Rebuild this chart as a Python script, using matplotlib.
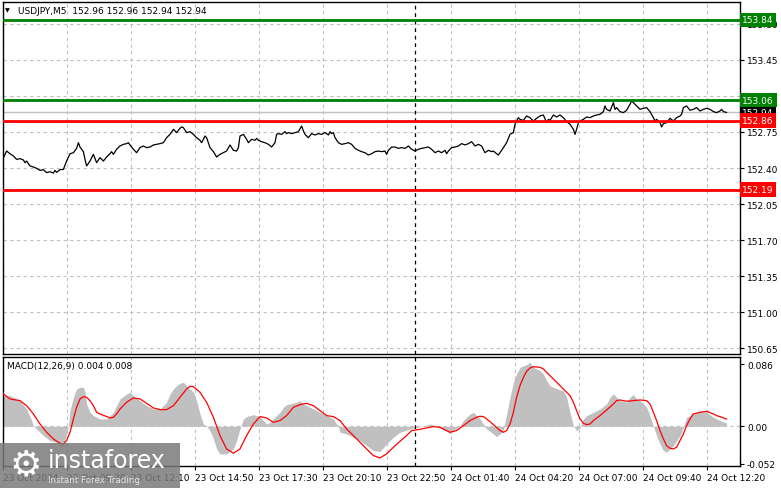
import matplotlib
# Agg backend, no display here
matplotlib.use("Agg")
import matplotlib.pyplot as plt
from matplotlib.patches import Rectangle

# ---------------------------------------------------------------------------
# Data (x = M5 bar index from the first visible bar)
# ---------------------------------------------------------------------------
price_bar = [
    0, 1.8, 3.5, 5.2, 6.8, 8.5, 10.2, 11.0, 11.8, 13.5, 15.2, 16.8, 18.5, 20.2,
    21.8, 23.5, 25.2, 26.0, 26.8, 28.5, 30.2, 31.8, 33.5, 35.2, 36.8, 37.7, 38.5,
    40.2, 41.0, 41.8, 43.5, 45.2, 46.8, 48.5, 50.2, 51.8, 53.5, 54.3, 55.2, 56.8,
    58.5, 60.2, 61.8, 62.7, 63.5, 65.2, 66.8, 68.5, 70.2, 71.8, 73.5, 75.2, 76.8,
    78.5, 80.2, 81.8, 83.5, 85.2, 86.8, 88.5, 89.3, 90.2, 91.8, 93.5, 95.2, 96.8,
    98.5, 99.3, 100.2, 101.0, 101.8, 103.5, 105.2, 106.8, 108.5, 110.2, 111.8,
    113.5, 115.2, 116.8, 117.7, 118.5, 120.2, 121.8, 122.7, 124.3, 126.0, 126.8,
    127.7, 129.3, 131.0, 132.7, 134.3, 136.0, 136.8, 137.7, 139.3, 141.0, 141.8,
    142.7, 144.3, 146.0, 147.7, 149.3, 150.2, 151.0, 152.7, 154.3, 156.0, 157.7,
    159.3, 161.0, 162.7, 163.5, 164.3, 165.2, 166.0, 167.7, 169.3, 171.0, 172.7,
    174.3, 176.0, 177.7, 179.3, 181.0, 182.7, 184.3, 186.0, 187.7, 189.3, 191.0,
    191.8, 192.7, 194.3, 196.0, 197.7, 199.3, 201.0, 202.7, 204.3, 206.0, 207.7,
    209.3, 211.0, 212.7, 214.3, 216.0, 217.7, 219.3, 221.0, 221.8, 222.7, 224.3,
    226.0, 227.7, 229.3, 231.0, 232.7, 234.3, 236.0, 237.7, 239.3, 241.0, 242.7,
    244.3, 245.2, 246.8, 247.7, 248.5, 250.2, 251.8, 253.5, 255.2, 256.0, 256.8,
    257.7, 258.5, 260.2, 261.8, 263.5, 265.2, 266.8, 268.5, 270.2, 271.8, 272.7,
    273.5, 275.2, 276.8, 278.5, 280.2, 281.8, 283.5, 285.2, 286.0, 286.8, 287.7,
    288.5, 290.2, 291.8, 293.5, 295.2, 296.8, 298.5, 300.2, 301.0, 301.8, 303.5,
    304.3, 305.2, 306.0, 306.8, 308.5, 310.2, 311.8, 313.5, 314.3, 315.2, 316.8,
    318.5, 320.2, 321.8, 323.5, 325.2, 326.0, 326.8, 328.5, 329.3, 330.2, 331.8,
    333.5, 335.2, 336.0, 336.8, 338.5, 339.3, 340.2, 341.8, 343.5, 345.2, 346.8,
    348.5, 350.2, 351.8, 353.5, 355.2, 356.8, 358.5, 359.3, 360.2, 361.8,
]
price_close = [
    152.490, 152.565, 152.539, 152.517, 152.484, 152.491, 152.478, 152.452,
    152.468, 152.420, 152.410, 152.397, 152.377, 152.384, 152.355, 152.364,
    152.351, 152.377, 152.358, 152.384, 152.387, 152.468, 152.539, 152.549,
    152.591, 152.646, 152.604, 152.559, 152.484, 152.420, 152.468, 152.533,
    152.452, 152.501, 152.468, 152.507, 152.539, 152.559, 152.533, 152.582,
    152.614, 152.630, 152.637, 152.646, 152.624, 152.582, 152.549, 152.598,
    152.614, 152.598, 152.604, 152.624, 152.630, 152.637, 152.646, 152.695,
    152.727, 152.776, 152.744, 152.786, 152.799, 152.792, 152.744, 152.753,
    152.727, 152.695, 152.669, 152.646, 152.679, 152.711, 152.695, 152.598,
    152.559, 152.507, 152.533, 152.549, 152.565, 152.624, 152.572, 152.565,
    152.598, 152.711, 152.727, 152.679, 152.646, 152.679, 152.669, 152.688,
    152.669, 152.656, 152.646, 152.630, 152.604, 152.646, 152.727, 152.734,
    152.727, 152.753, 152.734, 152.744, 152.734, 152.744, 152.753, 152.808,
    152.760, 152.727, 152.695, 152.734, 152.721, 152.734, 152.727, 152.744,
    152.721, 152.753, 152.734, 152.744, 152.695, 152.646, 152.630, 152.637,
    152.646, 152.630, 152.591, 152.572, 152.559, 152.549, 152.526, 152.539,
    152.559, 152.565, 152.559, 152.565, 152.533, 152.572, 152.604, 152.604,
    152.591, 152.598, 152.591, 152.614, 152.582, 152.565, 152.582, 152.591,
    152.598, 152.604, 152.582, 152.549, 152.565, 152.549, 152.572, 152.539,
    152.565, 152.598, 152.604, 152.614, 152.637, 152.624, 152.637, 152.656,
    152.614, 152.630, 152.614, 152.549, 152.572, 152.559, 152.565, 152.539,
    152.526, 152.549, 152.598, 152.646, 152.727, 152.744, 152.825, 152.857,
    152.889, 152.873, 152.863, 152.906, 152.889, 152.857, 152.883, 152.906,
    152.915, 152.841, 152.873, 152.863, 152.915, 152.896, 152.915, 152.889,
    152.850, 152.825, 152.776, 152.727, 152.776, 152.841, 152.857, 152.873,
    152.896, 152.889, 152.906, 152.915, 152.922, 152.948, 153.003, 152.970,
    152.954, 152.993, 153.035, 152.970, 152.987, 152.948, 152.938, 152.961,
    153.019, 153.051, 153.035, 153.003, 152.970, 152.980, 152.987, 152.948,
    152.889, 152.857, 152.873, 152.841, 152.799, 152.831, 152.841, 152.883,
    152.857, 152.873, 152.889, 152.906, 152.922, 152.987, 153.003, 152.961,
    152.970, 152.987, 152.954, 152.970, 152.980, 152.970, 152.948, 152.938,
    152.954, 152.970, 152.948, 152.940,
]

# MACD main line (grey histogram)
hist_bar = [
    0.2, 3.5, 5.2, 8.5, 11.8, 14.3, 15.2, 16.8, 20.2, 23.5, 26.8, 28.5, 30.2,
    31.8, 32.7, 33.5, 35.2, 36.8, 38.5, 40.2, 41.0, 41.8, 43.5, 45.2, 48.5, 51.8,
    55.2, 56.8, 58.5, 61.8, 63.5, 65.2, 68.5, 71.8, 75.2, 78.5, 81.8, 83.5, 85.2,
    86.8, 88.5, 90.2, 91.8, 93.5, 95.2, 96.8, 98.5, 100.2, 101.8, 103.5, 105.2,
    106.8, 108.5, 111.8, 115.2, 116.8, 118.5, 120.2, 121.8, 125.2, 128.5, 130.2,
    131.8, 133.5, 135.2, 136.8, 138.5, 140.2, 141.8, 143.5, 146.8, 148.5, 150.2,
    151.8, 155.2, 158.5, 161.8, 165.2, 166.8, 167.7, 168.5, 171.8, 175.2, 178.5,
    181.8, 185.2, 188.5, 191.8, 195.2, 198.5, 201.8, 205.2, 208.5, 211.8, 213.5,
    215.2, 218.5, 221.8, 223.5, 225.2, 228.5, 230.2, 231.8, 233.5, 235.2, 236.8,
    238.5, 240.2, 241.8, 245.2, 246.8, 248.5, 250.2, 251.8, 253.5, 255.2, 256.8,
    258.5, 261.8, 263.5, 265.2, 266.8, 268.5, 270.2, 271.8, 273.5, 275.2, 278.5,
    280.2, 281.8, 283.5, 285.2, 286.8, 288.5, 290.2, 291.8, 295.2, 298.5, 301.8,
    303.5, 305.2, 306.8, 308.5, 311.8, 313.5, 315.2, 316.8, 318.5, 321.8, 323.5,
    325.2, 326.8, 328.5, 330.2, 331.8, 333.5, 335.2, 336.8, 338.5, 340.2, 341.8,
    345.2, 348.5, 351.8, 355.2, 358.5, 361.8,
]
hist_val = [
    0.0425, 0.0425, 0.0402, 0.0356, 0.0240, 0.0079, 0.0, -0.0037, -0.0129,
    -0.0199, -0.0222, -0.0268, -0.0268, -0.0106, 0.0, 0.0217, 0.0402, 0.0517,
    0.0541, 0.0541, 0.0471, 0.0310, 0.0194, 0.0148, 0.0102, 0.0102, 0.0194,
    0.0286, 0.0379, 0.0448, 0.0471, 0.0425, 0.0356, 0.0286, 0.0240, 0.0240,
    0.0333, 0.0448, 0.0517, 0.0564, 0.0596, 0.0610, 0.0564, 0.0517, 0.0471,
    0.0356, 0.0171, 0.0032, 0.0, -0.0060, -0.0176, -0.0314, -0.0383, -0.0383,
    -0.0314, -0.0199, -0.0037, 0.0102, 0.0134, 0.0162, 0.0134, 0.0079, 0.0032,
    0.0055, 0.0102, 0.0148, 0.0194, 0.0263, 0.0300, 0.0310, 0.0333, 0.0356,
    0.0310, 0.0286, 0.0240, 0.0194, 0.0148, 0.0102, 0.0032, 0.0, -0.0083,
    -0.0106, -0.0152, -0.0199, -0.0268, -0.0337, -0.0350, -0.0245, -0.0152,
    -0.0083, -0.0051, -0.0023, -0.0005, 0.0018, 0.0032, 0.0018, -0.0023,
    -0.0069, -0.0106, -0.0060, 0.0009, 0.0079, 0.0125, 0.0171, 0.0194, 0.0148,
    0.0102, 0.0032, -0.0037, -0.0106, -0.0143, -0.0106, -0.0060, 0.0171, 0.0402,
    0.0610, 0.0725, 0.0818, 0.0855, 0.0887, 0.0818, 0.0795, 0.0772, 0.0725,
    0.0633, 0.0564, 0.0541, 0.0504, 0.0494, 0.0402, 0.0194, 0.0009, -0.0060,
    -0.0023, 0.0102, 0.0148, 0.0194, 0.0240, 0.0310, 0.0402, 0.0448, 0.0402,
    0.0356, 0.0333, 0.0402, 0.0439, 0.0379, 0.0356, 0.0263, 0.0148, 0.0,
    -0.0129, -0.0245, -0.0337, -0.0360, -0.0314, -0.0268, -0.0199, -0.0129,
    -0.0014, 0.0125, 0.0171, 0.0208, 0.0194, 0.0125, 0.0079, 0.0046,
]

# MACD signal line (red)
sig_bar = [
    0.2, 3.5, 8.5, 11.8, 15.2, 18.5, 21.8, 25.2, 28.5, 30.2, 31.8, 33.5, 35.2,
    36.8, 38.5, 40.2, 41.8, 43.5, 45.2, 46.8, 48.5, 51.8, 53.5, 55.2, 56.8, 58.5,
    61.8, 65.2, 68.5, 71.8, 75.2, 78.5, 81.8, 85.2, 88.5, 91.8, 93.5, 95.2, 98.5,
    101.8, 105.2, 108.5, 111.8, 115.2, 118.5, 121.8, 125.2, 128.5, 131.8, 135.2,
    138.5, 141.8, 145.2, 148.5, 151.8, 155.2, 158.5, 161.8, 165.2, 168.5, 171.8,
    175.2, 178.5, 181.8, 185.2, 188.5, 191.8, 195.2, 198.5, 201.8, 204.3, 208.5,
    211.8, 215.2, 218.5, 221.8, 223.5, 226.8, 230.2, 233.5, 236.8, 238.5, 240.2,
    241.8, 245.2, 248.5, 250.2, 251.8, 253.5, 255.2, 256.8, 258.5, 260.2, 261.8,
    263.5, 265.2, 268.5, 270.2, 271.8, 275.2, 278.5, 281.8, 283.5, 285.2, 286.8,
    288.5, 290.2, 291.8, 293.5, 295.2, 298.5, 301.8, 305.2, 306.8, 308.5, 311.8,
    315.2, 318.5, 321.8, 323.5, 325.2, 326.8, 328.5, 330.2, 331.8, 333.5, 335.2,
    336.8, 338.5, 340.2, 341.8, 343.5, 345.2, 348.5, 351.8, 355.2, 356.8, 358.5,
    361.8,
]
sig_val = [
    0.0448, 0.0379, 0.0356, 0.0286, 0.0171, 0.0032, -0.0083, -0.0176, -0.0236,
    -0.0245, -0.0199, -0.0083, 0.0102, 0.0263, 0.0379, 0.0411, 0.0402, 0.0356,
    0.0286, 0.0194, 0.0171, 0.0134, 0.0116, 0.0125, 0.0171, 0.0240, 0.0333,
    0.0393, 0.0379, 0.0319, 0.0254, 0.0231, 0.0231, 0.0286, 0.0402, 0.0517,
    0.0554, 0.0550, 0.0471, 0.0333, 0.0125, -0.0129, -0.0314, -0.0374, -0.0314,
    -0.0129, 0.0032, 0.0134, 0.0116, 0.0055, 0.0079, 0.0148, 0.0263, 0.0300,
    0.0319, 0.0286, 0.0217, 0.0148, 0.0134, 0.0079, -0.0037, -0.0129, -0.0222,
    -0.0314, -0.0407, -0.0439, -0.0383, -0.0291, -0.0208, -0.0129, -0.0060,
    -0.0042, -0.0023, -0.0005, -0.0014, -0.0060, -0.0083, -0.0060, 0.0009,
    0.0079, 0.0125, 0.0139, 0.0134, 0.0102, 0.0023, -0.0060, -0.0083, -0.0060,
    0.0032, 0.0194, 0.0402, 0.0564, 0.0679, 0.0762, 0.0809, 0.0827, 0.0818,
    0.0795, 0.0748, 0.0656, 0.0564, 0.0471, 0.0425, 0.0333, 0.0217, 0.0102,
    0.0042, 0.0023, 0.0032, 0.0079, 0.0148, 0.0226, 0.0310, 0.0356, 0.0365,
    0.0347, 0.0356, 0.0365, 0.0356, 0.0310, 0.0194, 0.0079, -0.0060, -0.0176,
    -0.0268, -0.0305, -0.0314, -0.0291, -0.0199, -0.0106, 0.0009, 0.0102,
    0.0171, 0.0194, 0.0208, 0.0171, 0.0148, 0.0134, 0.0100,
]

time_ticks = [0, 32, 64, 96, 128, 160, 192, 224, 256, 288, 320, 352]
time_labels = [
    "23 Oct 2024", "23 Oct 09:30", "23 Oct 12:10", "23 Oct 14:50",
    "23 Oct 17:30", "23 Oct 20:10", "23 Oct 22:50", "24 Oct 01:40",
    "24 Oct 04:20", "24 Oct 07:00", "24 Oct 09:40", "24 Oct 12:20",
]
price_ticks = [150.65, 151.00, 151.35, 151.70, 152.05, 152.40, 152.75,
               153.10, 153.45, 153.80]
macd_ticks = [-0.052, 0.0, 0.086]
macd_tick_labels = ["-0.052", "0.00", "0.086"]

resistance_levels = [153.84, 153.06]
support_levels = [152.86, 152.19]
bid_price = 152.94
separator_bar = 206

title_text = "USDJPY,M5  152.96 152.96 152.94 152.94"
macd_text = "MACD(12,26,9) 0.004 0.008"


def main():
    W, H = 781, 489
    fig = plt.figure(figsize=(W / 100, H / 100), dpi=100)

    def rect(l, t, r, b):
        # pixel box -> figure fraction
        return [l / W, 1 - b / H, (r - l) / W, (b - t) / H]

    ax = fig.add_axes(rect(3, 3, 740, 355))
    ax2 = fig.add_axes(rect(3, 358, 740, 467), sharex=ax)

    grid_kw = dict(color="#c0c0c0", linestyle=(0, (3, 3)), linewidth=0.8)
    fs = 6.5

    # -----------------------------------------------------------------------
    # Price panel
    # -----------------------------------------------------------------------
    ax.plot(price_bar, price_close, color="black", linewidth=0.9, zorder=3)
    ax.axhline(bid_price, color="#c0c0c0", linewidth=1, zorder=2)
    for lvl in resistance_levels:
        ax.axhline(lvl, color="#008000", linewidth=2, zorder=4)
    for lvl in support_levels:
        ax.axhline(lvl, color="#ff0000", linewidth=2, zorder=4)
    ax.axvline(separator_bar, color="black", linestyle=(0, (3, 3)), linewidth=0.9)

    ax.set_xlim(0, 368.5)
    ax.set_ylim(150.593, 154.013)
    ax.yaxis.tick_right()
    ax.set_yticks(price_ticks)
    ax.set_yticklabels([f"{v:.2f}" for v in price_ticks])
    ax.tick_params(axis="y", direction="out", length=3, labelsize=fs, pad=2)
    ax.tick_params(axis="x", bottom=False, labelbottom=False)
    ax.grid(True, **grid_kw)

    def tag(y, txt, fc):
        ax.text(1.003, y, txt, transform=ax.get_yaxis_transform(), ha="left",
                va="center", fontsize=fs, color="white", clip_on=False, zorder=6,
                bbox=dict(boxstyle="square,pad=0.3", fc=fc, ec="none"))

    tag(bid_price, f"{bid_price:.2f}", "black")
    for lvl in resistance_levels:
        tag(lvl, f"{lvl:.2f}", "#008000")
    for lvl in support_levels:
        tag(lvl, f"{lvl:.2f}", "#ff0000")

    # -----------------------------------------------------------------------
    # MACD panel
    # -----------------------------------------------------------------------
    ax2.fill_between(hist_bar, hist_val, 0, color="#c0c0c0", linewidth=0, zorder=2)
    ax2.plot(sig_bar, sig_val, color="red", linewidth=0.9, zorder=3)
    ax2.axhline(0, zorder=1, **grid_kw)
    ax2.axvline(separator_bar, color="black", linestyle=(0, (3, 3)), linewidth=0.9)
    ax2.set_ylim(-0.0551, 0.0961)
    ax2.yaxis.tick_right()
    ax2.set_yticks(macd_ticks)
    ax2.set_yticklabels(macd_tick_labels)
    ax2.tick_params(axis="y", direction="out", length=3, labelsize=fs, pad=2)
    ax2.set_xticks(time_ticks)
    ax2.set_xticklabels(time_labels, ha="left")
    ax2.tick_params(axis="x", direction="out", length=3, labelsize=fs, pad=2)
    ax2.grid(True, axis="x", **grid_kw)
    ax2.text(0.005, 0.965, macd_text, transform=ax2.transAxes, va="top",
             ha="left", fontsize=fs)

    for a in (ax, ax2):
        for s in a.spines.values():
            s.set_linewidth(1)
            s.set_color("black")

    # header text
    fig.text(5 / W, 1 - 11 / H, "\u25bc", fontsize=4.5, va="center")
    fig.text(18 / W, 1 - 11 / H, title_text, fontsize=fs, va="center")

    # -----------------------------------------------------------------------
    # Watermark
    # -----------------------------------------------------------------------
    fig.add_artist(Rectangle((0, 0), 180 / W, 45 / H, transform=fig.transFigure,
                             facecolor="#7a7a7a", alpha=0.85, edgecolor="none",
                             zorder=10))
    fig.text(26 / W, 1 - 465 / H, "\u2699", fontsize=26, color="white",
             ha="center", va="center", zorder=11)
    fig.text(48 / W, 1 - 468 / H, "instaforex", fontsize=17, color="white",
             ha="left", va="baseline", zorder=11)
    fig.text(48 / W, 1 - 483 / H, "Instant Forex Trading", fontsize=6.3,
             color="#e6e6e6", ha="left", va="baseline", zorder=11)

    fig.savefig("out.png", dpi=100)


if __name__ == "__main__":
    main()
